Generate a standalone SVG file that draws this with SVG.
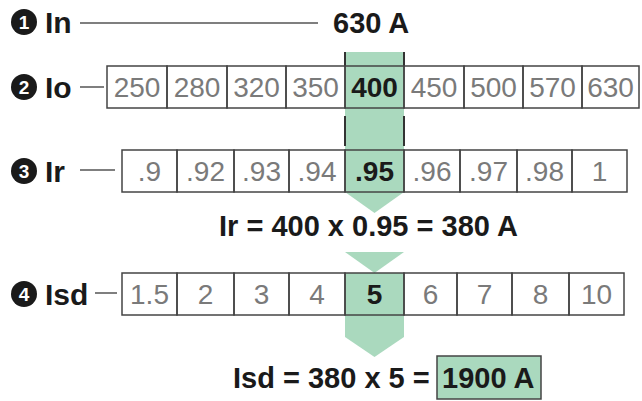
<svg xmlns="http://www.w3.org/2000/svg" width="642" height="401" viewBox="0 0 642 401">
<style>
text{font-family:"Liberation Sans",Arial,sans-serif}
.lbl{font-size:30px;font-weight:bold;fill:#1a1a1a}
.num{font-size:28px;fill:#7a7a7a;text-anchor:middle}
.sel{font-size:28px;font-weight:bold;fill:#1a1a1a;text-anchor:middle}
.cell{fill:none;stroke:#444;stroke-width:1.5}
.circ{fill:#1a1a1a}
.cn{font-size:19px;font-weight:bold;fill:#fff;text-anchor:middle}
.ln{stroke:#555;stroke-width:1.5;fill:none}
.tick{stroke:#333;stroke-width:2}
.grn{fill:#aad9be}
.f{font-size:29px;font-weight:bold;fill:#1a1a1a}
</style>
<g id="green">
<path class="grn" d="M345,52 H404 V192 L374.5,213 L345,192 Z"/>
<path class="grn" d="M345,252 H404 L374.5,273 Z"/>
<rect class="grn" x="345" y="273" width="59" height="42"/>
<path class="grn" d="M345,315 H404 V337 L374.5,357 L345,337 Z"/>
</g>
<g id="connectors">
<line class="ln" x1="80" y1="23" x2="318" y2="23"/>
<line class="ln" x1="80" y1="87" x2="104" y2="87"/>
<line class="ln" x1="80" y1="170" x2="115" y2="170"/>
<line class="ln" x1="95" y1="293" x2="117" y2="293"/>
<line class="tick" x1="345" y1="52" x2="345" y2="66"/>
<line class="tick" x1="404" y1="52" x2="404" y2="66"/>
<line class="tick" x1="345" y1="116" x2="345" y2="146"/>
<line class="tick" x1="404" y1="116" x2="404" y2="146"/>
</g>
<g id="label-in">
<circle class="circ" cx="24" cy="22" r="13"/><text class="cn" x="24" y="29">1</text>
<text class="lbl" x="45" y="33">In</text>
</g>
<g id="value-in"><text class="lbl" x="333" y="33" style="font-size:29px">630 A</text></g>
<g id="label-io">
<circle class="circ" cx="24" cy="87" r="13"/><text class="cn" x="24" y="94">2</text>
<text class="lbl" x="45" y="98">Io</text>
</g>
<g id="label-ir">
<circle class="circ" cx="24" cy="171" r="13"/><text class="cn" x="24" y="178">3</text>
<text class="lbl" x="45" y="182">Ir</text>
</g>
<g id="label-isd">
<circle class="circ" cx="24" cy="294" r="13"/><text class="cn" x="24" y="301">4</text>
<text class="lbl" x="45" y="305">Isd</text>
</g>
<g id="io-row">
<rect class="cell" x="107" y="66" width="60" height="42"/><text class="num" x="137" y="97">250</text>
<rect class="cell" x="167" y="66" width="60" height="42"/><text class="num" x="197" y="97">280</text>
<rect class="cell" x="227" y="66" width="59" height="42"/><text class="num" x="256.5" y="97">320</text>
<rect class="cell" x="286" y="66" width="59" height="42"/><text class="num" x="315.5" y="97">350</text>
<rect class="cell" x="345" y="66" width="59" height="42"/><text class="sel" x="374.5" y="97">400</text>
<rect class="cell" x="404" y="66" width="60" height="42"/><text class="num" x="434" y="97">450</text>
<rect class="cell" x="464" y="66" width="59" height="42"/><text class="num" x="493.5" y="97">500</text>
<rect class="cell" x="523" y="66" width="59" height="42"/><text class="num" x="552.5" y="97">570</text>
<rect class="cell" x="582" y="66" width="57" height="42"/><text class="num" x="610.5" y="97">630</text>
</g>
<g id="ir-row">
<rect class="cell" x="122" y="150" width="55" height="42"/><text class="num" x="149.5" y="181">.9</text>
<rect class="cell" x="177" y="150" width="57" height="42"/><text class="num" x="205.5" y="181">.92</text>
<rect class="cell" x="234" y="150" width="55" height="42"/><text class="num" x="261.5" y="181">.93</text>
<rect class="cell" x="289" y="150" width="56" height="42"/><text class="num" x="317" y="181">.94</text>
<rect class="cell" x="345" y="150" width="59" height="42"/><text class="sel" x="374.5" y="181">.95</text>
<rect class="cell" x="404" y="150" width="56" height="42"/><text class="num" x="432" y="181">.96</text>
<rect class="cell" x="460" y="150" width="57" height="42"/><text class="num" x="488.5" y="181">.97</text>
<rect class="cell" x="517" y="150" width="55" height="42"/><text class="num" x="544.5" y="181">.98</text>
<rect class="cell" x="572" y="150" width="55" height="42"/><text class="num" x="599.5" y="181">1</text>
</g>
<g id="ir-formula"><text class="f" x="219" y="236">Ir = 400 x 0.95 = 380 A</text></g>
<g id="isd-row">
<rect class="cell" x="122" y="273" width="55" height="42"/><text class="num" x="149.5" y="304">1.5</text>
<rect class="cell" x="177" y="273" width="57" height="42"/><text class="num" x="205.5" y="304">2</text>
<rect class="cell" x="234" y="273" width="55" height="42"/><text class="num" x="261.5" y="304">3</text>
<rect class="cell" x="289" y="273" width="56" height="42"/><text class="num" x="317" y="304">4</text>
<rect class="cell" x="345" y="273" width="59" height="42"/><text class="sel" x="374.5" y="304">5</text>
<rect class="cell" x="404" y="273" width="53" height="42"/><text class="num" x="430.5" y="304">6</text>
<rect class="cell" x="457" y="273" width="55" height="42"/><text class="num" x="484.5" y="304">7</text>
<rect class="cell" x="512" y="273" width="57" height="42"/><text class="num" x="540.5" y="304">8</text>
<rect class="cell" x="569" y="273" width="55" height="42"/><text class="num" x="596.5" y="304">10</text>
</g>
<g id="isd-formula">
<text class="f" x="233" y="388">Isd = 380 x 5 =</text>
<rect class="grn" x="437" y="356" width="104" height="43" stroke="#444" stroke-width="1.5"/>
<text class="f" x="442" y="388">1900 A</text>
</g>
</svg>
